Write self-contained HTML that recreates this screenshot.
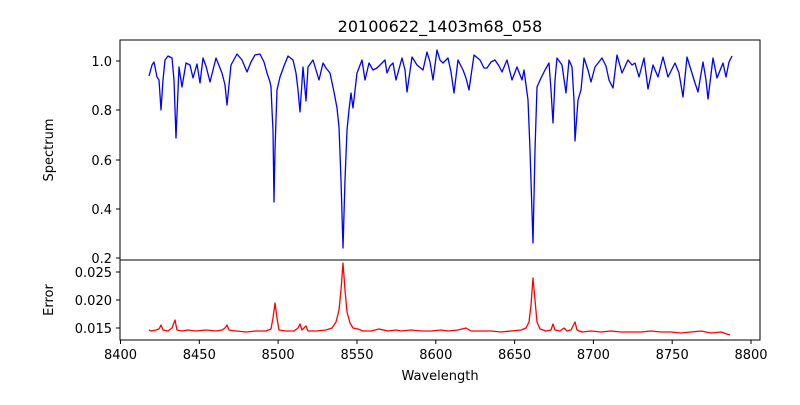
<!DOCTYPE html>
<html><head><meta charset="utf-8"><style>
body{margin:0;background:#fff}
svg text{font-family:"DejaVu Sans","Liberation Sans",sans-serif;font-size:13px;fill:#000}
</style></head><body>
<svg width="800" height="400" xmlns="http://www.w3.org/2000/svg">
<rect width="800" height="400" fill="#fff"/>
<text x="440" y="32" text-anchor="middle" style="font-size:16px">20100622_1403m68_058</text>
<polyline fill="none" stroke="#0000ff" stroke-width="1.3" stroke-linejoin="round" points="149,76 152,65 154,62 157,77 159,80 161,110 163,80 165,60 168,56 172,58 174,80 176,138 179,67 182,87 186,63 190,65 193,78 197,64 200,83 203,58 206,66 210,82 216,58 222,73 225,85 227,105 231,65 237,54 242,60 247,72 251,62 255,55 260,54 264,62 267,73 270,82 271,87 272,110 273,130 274,202 275,150 277,90 280,77 284,66 288,56 293,60 296,73 298,90 300,112 303,67 306,101 308,67 313,60 316,70 319,80 323,63 326,68 330,73 334,92 337,108 339,127 341,180 343,248 345,180 347,130 349,110 351,93 353,108 357,73 362,60 365,80 369,63 373,70 377,68 381,64 385,60 387,73 390,66 393,63 396,80 402,58 405,70 407,92 412,57 417,65 423,70 427,52 430,62 433,80 437,50 440,60 443,63 448,58 451,72 454,93 458,60 463,70 466,78 469,90 474,55 480,60 484,68 487,68 491,62 495,60 499,66 502,72 507,60 512,80 517,67 522,80 524,70 526,85 528,100 530,150 533,243 535,150 537,87 541,78 545,70 549,63 551,90 553,123 555,80 557,58 562,65 566,93 569,60 572,67 574,100 575,141 578,100 581,90 584,58 588,70 591,82 595,67 602,58 606,66 609,80 613,88 617,55 622,73 628,60 632,65 635,63 639,77 644,58 648,89 653,65 658,77 663,57 668,77 675,63 679,73 683,97 687,57 691,70 695,83 698,92 703,62 706,80 708,99 713,58 717,78 723,63 726,77 729,62 732,56"/>
<polyline transform="translate(-4,0)" fill="none" stroke="#ff0000" stroke-width="1.3" stroke-linejoin="round" points="153,330 155,331 160,330 163,329 165,325 167,330 172,331 176,328 179,320 181,330 186,331 192,330 200,331 210,330 220,331 226,330 229,328 231,325 233,330 240,331 250,332 260,331 270,331 275,329 277,318 279,303 281,318 283,330 290,331 298,331 302,328 304,324 306,330 308,328 310,326 312,331 320,331 330,330 336,328 340,322 343,310 345,290 347,263 349,290 351,312 354,323 357,328 362,329 367,331 375,331 383,329 392,331 400,330 405,331 415,330 425,331 435,331 445,330 452,331 462,330 470,328 475,331 485,331 495,331 505,332 515,331 525,330 530,328 533,322 535,305 537,278 539,300 541,322 544,329 550,331 555,330 557,324 559,330 564,331 568,328 571,331 575,330 577,326 579,322 581,330 586,332 595,331 605,332 615,331 625,332 635,332 645,332 655,331 665,332 675,332 685,333 695,332 705,331 715,333 725,332 734,335"/>
<rect x="120" y="40" width="640" height="220" fill="none" stroke="#000" stroke-width="1"/>
<rect x="120" y="260" width="640" height="80" fill="none" stroke="#000" stroke-width="1"/>
<g stroke="#000" stroke-width="1">
<line x1="120.5" y1="340" x2="120.5" y2="344"/><line x1="199.3" y1="340" x2="199.3" y2="344"/><line x1="278.1" y1="340" x2="278.1" y2="344"/><line x1="357" y1="340" x2="357" y2="344"/><line x1="435.8" y1="340" x2="435.8" y2="344"/><line x1="514.6" y1="340" x2="514.6" y2="344"/><line x1="593.4" y1="340" x2="593.4" y2="344"/><line x1="672.2" y1="340" x2="672.2" y2="344"/><line x1="751" y1="340" x2="751" y2="344"/>
<line x1="116" y1="61" x2="120" y2="61"/><line x1="116" y1="110" x2="120" y2="110"/><line x1="116" y1="160" x2="120" y2="160"/><line x1="116" y1="209" x2="120" y2="209"/><line x1="116" y1="258" x2="120" y2="258"/>
<line x1="116" y1="272" x2="120" y2="272"/><line x1="116" y1="300" x2="120" y2="300"/><line x1="116" y1="328" x2="120" y2="328"/>
</g>
<g text-anchor="middle">
<text x="120.5" y="359">8400</text><text x="199.3" y="359">8450</text><text x="278.1" y="359">8500</text><text x="357" y="359">8550</text><text x="435.8" y="359">8600</text><text x="514.6" y="359">8650</text><text x="593.4" y="359">8700</text><text x="672.2" y="359">8750</text><text x="751" y="359">8800</text>
</g>
<g text-anchor="end">
<text x="112" y="66">1.0</text><text x="112" y="115">0.8</text><text x="112" y="165">0.6</text><text x="112" y="214">0.4</text><text x="112" y="263">0.2</text>
<text x="112" y="277">0.025</text><text x="112" y="305">0.020</text><text x="112" y="333">0.015</text>
</g>
<text x="440" y="380" text-anchor="middle">Wavelength</text>
<text transform="translate(53,150) rotate(-90)" text-anchor="middle">Spectrum</text>
<text transform="translate(53,300) rotate(-90)" text-anchor="middle">Error</text>
</svg>
</body></html>
